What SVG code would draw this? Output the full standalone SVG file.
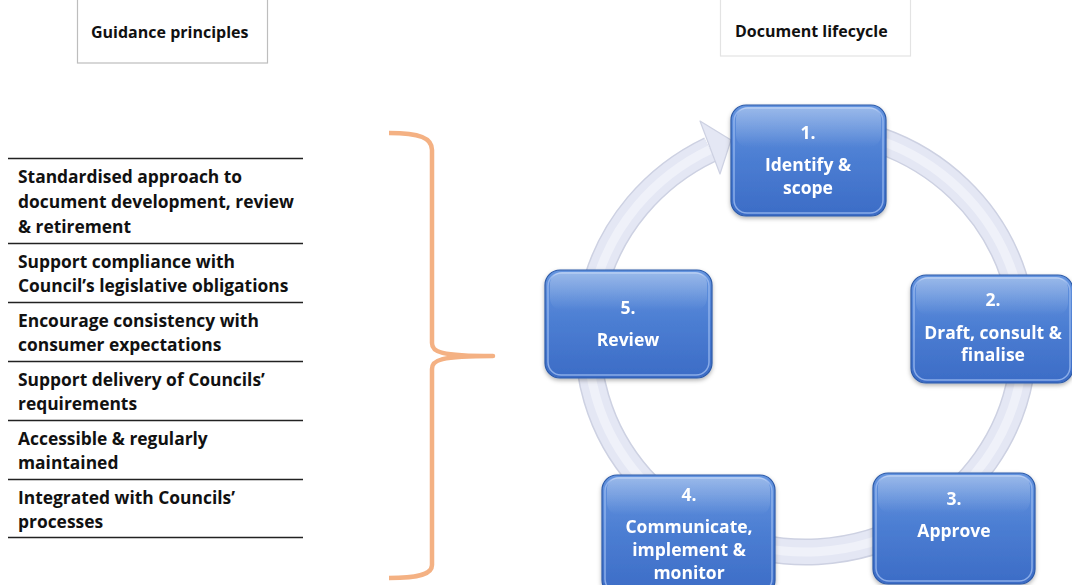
<svg xmlns="http://www.w3.org/2000/svg" width="1072" height="585" viewBox="0 0 1072 585">
<defs>
<linearGradient id="boxg" x1="0" y1="0" x2="0" y2="1">
<stop offset="0" stop-color="#6494df"/>
<stop offset="0.5" stop-color="#4b7dd2"/>
<stop offset="1" stop-color="#3c6cc6"/>
</linearGradient>
<linearGradient id="gloss" x1="0" y1="0" x2="0" y2="1">
<stop offset="0" stop-color="#ffffff" stop-opacity="0.35"/>
<stop offset="1" stop-color="#ffffff" stop-opacity="0"/>
</linearGradient>
<filter id="sh" x="-10%" y="-10%" width="120%" height="130%">
<feDropShadow dx="0" dy="2" stdDeviation="2" flood-color="#000" flood-opacity="0.3"/>
</filter>
</defs>
<style>
.t{font-family:"Open Sans","Liberation Sans",sans-serif;font-weight:bold}
.hd{font-size:16px;fill:#111}
.li{font-size:17.4px;fill:#111}
.bx{font-size:17.5px;fill:#ffffff;text-anchor:middle}
.rule{stroke:#222;stroke-width:1.3}
.box{fill:url(#boxg);stroke:#2d5aa8;stroke-width:1.2}
.hl{fill:none;stroke:#9dbcf0;stroke-width:1.5;opacity:0.8}
</style>

<g id="title-guidance">
<rect x="77.5" y="-3" width="190" height="66" fill="#fff" stroke="#bdbdbd" stroke-width="1.2"/>
<text class="t hd" x="91" y="38">Guidance principles</text>
</g>
<g id="title-lifecycle">
<rect x="720.5" y="-3" width="190" height="59" fill="#fff" stroke="#e3e3e3" stroke-width="1.2"/>
<text class="t hd" x="735" y="37">Document lifecycle</text>
</g>

<g id="principles">
<line class="rule" x1="8" y1="158.5" x2="303" y2="158.5"/>
<line class="rule" x1="8" y1="243.5" x2="303" y2="243.5"/>
<line class="rule" x1="8" y1="302.5" x2="303" y2="302.5"/>
<line class="rule" x1="8" y1="361.5" x2="303" y2="361.5" stroke="#777"/>
<line class="rule" x1="8" y1="420.5" x2="303" y2="420.5"/>
<line class="rule" x1="8" y1="479.5" x2="303" y2="479.5"/>
<line class="rule" x1="8" y1="537.5" x2="303" y2="537.5" stroke="#777"/>
<text class="t li" x="18" y="183">Standardised approach to</text>
<text class="t li" x="18" y="208">document development, review</text>
<text class="t li" x="18" y="233">&amp; retirement</text>
<text class="t li" x="18" y="268">Support compliance with</text>
<text class="t li" x="18" y="292">Council’s legislative obligations</text>
<text class="t li" x="18" y="327">Encourage consistency with</text>
<text class="t li" x="18" y="351">consumer expectations</text>
<text class="t li" x="18" y="386">Support delivery of Councils’</text>
<text class="t li" x="18" y="410">requirements</text>
<text class="t li" x="18" y="445">Accessible &amp; regularly</text>
<text class="t li" x="18" y="469">maintained</text>
<text class="t li" x="18" y="504">Integrated with Councils’</text>
<text class="t li" x="18" y="528">processes</text>
</g>

<g id="connectors">
<path id="brace" d="M389,133 C420,133 432,138 432,150 L432,343 C432,352 440,356 493,356 C440,356 432,360 432,369 L432,565 C432,574 420,578 389,578" fill="none" stroke="#f4b183" stroke-width="4.5" stroke-linejoin="round"/>
<g id="cycle-arrow">
<path d="M 880 140.6 A 218 212 0 1 1 710 149.6" fill="none" stroke="#cdd1e2" stroke-width="27"/>
<path d="M 880 140.6 A 218 212 0 1 1 710 149.6" fill="none" stroke="#e4e7f4" stroke-width="24"/>
<path d="M 880 140.6 A 218 212 0 1 1 710 149.6" fill="none" stroke="#eff1f9" stroke-width="9"/>
<polygon points="700,121 731,140 720,174" fill="#e4e7f4" stroke="#cdd1e2" stroke-width="1.2" stroke-linejoin="round"/>
</g>
</g>

<g id="step1" filter="url(#sh)">
<rect class="box" x="731" y="105" width="155" height="111" rx="15"/>
<rect class="hl" x="734" y="108" width="149" height="105" rx="13"/>
<rect x="736" y="107" width="145" height="40" rx="12" fill="url(#gloss)"/>
<text class="t bx" x="808" y="139">1.</text>
<text class="t bx" x="808" y="171">Identify &amp;</text>
<text class="t bx" x="808" y="194">scope</text>
</g>
<g id="step2" filter="url(#sh)">
<rect class="box" x="911" y="275" width="162" height="108" rx="15"/>
<rect class="hl" x="914" y="278" width="156" height="102" rx="13"/>
<rect x="916" y="277" width="152" height="38" rx="12" fill="url(#gloss)"/>
<text class="t bx" x="993" y="306">2.</text>
<text class="t bx" x="993" y="339">Draft, consult &amp;</text>
<text class="t bx" x="993" y="361">finalise</text>
</g>
<g id="step3" filter="url(#sh)">
<rect class="box" x="873" y="473" width="162" height="111" rx="15"/>
<rect class="hl" x="876" y="476" width="156" height="105" rx="13"/>
<rect x="878" y="475" width="152" height="38" rx="12" fill="url(#gloss)"/>
<text class="t bx" x="954" y="505">3.</text>
<text class="t bx" x="954" y="537">Approve</text>
</g>
<g id="step4" filter="url(#sh)">
<rect class="box" x="602" y="475" width="173" height="120" rx="15"/>
<rect class="hl" x="605" y="478" width="167" height="114" rx="13"/>
<rect x="607" y="477" width="163" height="38" rx="12" fill="url(#gloss)"/>
<text class="t bx" x="689" y="501">4.</text>
<text class="t bx" x="689" y="533">Communicate,</text>
<text class="t bx" x="689" y="556">implement &amp;</text>
<text class="t bx" x="689" y="579">monitor</text>
</g>
<g id="step5" filter="url(#sh)">
<rect class="box" x="545" y="270" width="167" height="108" rx="15"/>
<rect class="hl" x="548" y="273" width="161" height="102" rx="13"/>
<rect x="550" y="272" width="157" height="38" rx="12" fill="url(#gloss)"/>
<text class="t bx" x="628" y="314">5.</text>
<text class="t bx" x="628" y="346">Review</text>
</g>
</svg>
